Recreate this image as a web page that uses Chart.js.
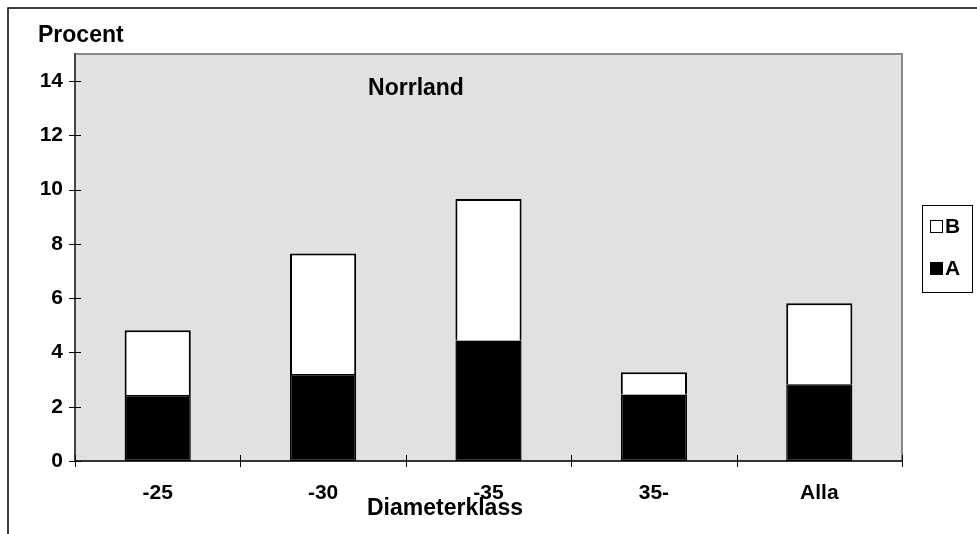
<!DOCTYPE html>
<html>
<head>
<meta charset="utf-8">
<script src="https://cdn.jsdelivr.net/npm/chart.js@4/dist/chart.umd.min.js"></script>
<style>
  body { margin: 0; background: #fff; }
  #wrap { width: 977px; height: 534px; }
</style>
</head>
<body>
<div id="wrap"><canvas id="chart"></canvas></div>
<script>
const categories = ['-25', '-30', '-35', '35-', 'Alla'];
const valuesA = [2.43, 3.21, 4.44, 2.45, 2.83];
const valuesB = [2.39, 4.44, 5.22, 0.82, 2.98];
const yTicks = [0, 2, 4, 6, 8, 10, 12, 14];

const FONT = '"Liberation Sans", Arial, sans-serif';

// gray plot area, frame lines, tick marks, titles and the legend box
const decor = {
    id: 'decor',
    beforeDraw(chart) {
        const { ctx, chartArea: a } = chart;
        ctx.save();
        ctx.fillStyle = '#e1e1e1';
        ctx.fillRect(a.left, a.top, a.right - a.left, a.bottom - a.top);
        ctx.strokeStyle = '#8a8a8a';
        ctx.lineWidth = 2;
        ctx.beginPath();
        ctx.moveTo(a.left, a.top);
        ctx.lineTo(a.right, a.top);
        ctx.lineTo(a.right, a.bottom);
        ctx.stroke();
        ctx.restore();
    },
    afterDraw(chart) {
        const { ctx, chartArea: a, scales } = chart;
        ctx.save();

        // outer frame (only left and top visible)
        ctx.strokeStyle = '#000';
        ctx.lineWidth = 1.5;
        ctx.beginPath();
        ctx.moveTo(8, 534);
        ctx.lineTo(8, 8);
        ctx.lineTo(977, 8);
        ctx.stroke();

        // tick marks crossing the axes
        ctx.strokeStyle = '#000';
        ctx.lineWidth = 1;
        ctx.beginPath();
        yTicks.forEach(v => {
            const y = Math.round(scales.y.getPixelForValue(v)) + 0.5;
            ctx.moveTo(a.left - 6, y);
            ctx.lineTo(a.left + 6, y);
        });
        for (let i = 0; i <= categories.length; i++) {
            const x = Math.round(scales.x.getPixelForValue(i - 0.5)) + 0.5;
            ctx.moveTo(x, a.bottom - 6);
            ctx.lineTo(x, a.bottom + 6);
        }
        ctx.stroke();

        // texts
        ctx.fillStyle = '#000';
        ctx.textBaseline = 'middle';
        ctx.font = 'bold 23px ' + FONT;
        ctx.textAlign = 'left';
        ctx.fillText('Procent', 38, 36);
        ctx.textAlign = 'center';
        ctx.fillText('Norrland', 416, 89);
        ctx.fillText('Diameterklass', 445, 509);

        // legend
        ctx.lineWidth = 1;
        ctx.strokeStyle = '#000';
        ctx.strokeRect(922.5, 205.5, 50, 87);
        const items = chart.data.datasets.slice().reverse();
        items.forEach((ds, i) => {
            const cy = 227 + i * 42;
            ctx.fillStyle = ds.backgroundColor;
            ctx.fillRect(930.5, cy - 6.5, 12, 12);
            ctx.strokeRect(930.5, cy - 6.5, 12, 12);
            ctx.fillStyle = '#000';
            ctx.textAlign = 'left';
            ctx.font = 'bold 21px ' + FONT;
            ctx.fillText(ds.label, 945, cy);
        });
        ctx.restore();
    }
};

new Chart(document.getElementById('chart'), {
    type: 'bar',
    data: {
        labels: categories,
        datasets: [
            {
                label: 'A',
                data: valuesA,
                backgroundColor: '#000000',
                borderColor: '#000000',
                borderWidth: 1.5,
                borderSkipped: false
            },
            {
                label: 'B',
                data: valuesB,
                backgroundColor: '#ffffff',
                borderColor: '#000000',
                borderWidth: 2,
                borderSkipped: 'start'
            }
        ]
    },
    options: {
        responsive: true,
        maintainAspectRatio: false,
        animation: false,
        layout: { padding: { left: 0, right: 75, top: 54, bottom: 0 } },
        datasets: { bar: { categoryPercentage: 1, barPercentage: 0.4 } },
        plugins: {
            legend: { display: false },
            tooltip: { enabled: false }
        },
        scales: {
            x: {
                stacked: true,
                grid: { display: false },
                border: { display: true, color: '#333', width: 2 },
                ticks: {
                    color: '#000',
                    padding: 12,
                    font: { family: FONT, size: 21, weight: 'bold' }
                },
                afterFit: s => { s.height = 73; }
            },
            y: {
                stacked: true,
                min: 0,
                max: 15,
                grid: { display: false },
                border: { display: true, color: '#444', width: 2 },
                ticks: {
                    color: '#000',
                    padding: 4,
                    stepSize: 2,
                    font: { family: FONT, size: 21, weight: 'bold' }
                },
                afterBuildTicks: s => {
                    s.ticks = yTicks.map(v => ({ value: v }));
                },
                afterFit: s => { s.width = 75; }
            }
        }
    },
    plugins: [decor]
});
</script>
</body>
</html>
